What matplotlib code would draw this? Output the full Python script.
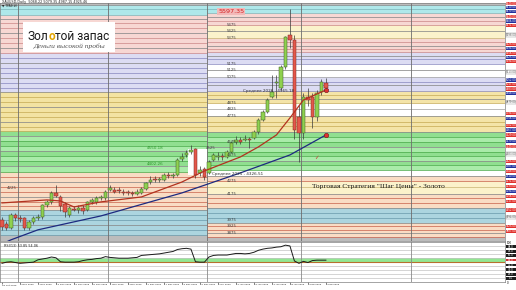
import matplotlib
matplotlib.use("Agg")
import matplotlib.pyplot as plt
from matplotlib.patches import Rectangle
from matplotlib.text import Annotation
import matplotlib.transforms as mtransforms

# XAUUSD Daily, 28 Oct 2025 - 9 Feb 2026 (bar index 0..72)
opens = [3975, 3945, 3914, 4014, 3990, 3990, 3914, 3960, 3990, 3995,
         4091, 4114, 4183, 4152, 4100, 4014, 4060, 4052, 4070, 4052,
         4114, 4114, 4144, 4144, 4206, 4206, 4200, 4190, 4183, 4180,
         4175, 4183, 4214, 4270, 4283, 4280, 4283, 4321, 4313, 4321,
         4445, 4475, 4500, 4521, 4337, 4368, 4337, 4437, 4460, 4465,
         4460, 4498, 4575, 4590, 4590, 4595, 4606, 4652, 4744, 4806,
         4921, 5030, 4990, 5152, 5398, 5360, 4767, 4644, 4921, 4921,
         4767, 4960, 5030]
highs = [3995, 3965, 4030, 4025, 4010, 4000, 3975, 4005, 4020, 4100,
         4130, 4200, 4245, 4170, 4110, 4085, 4085, 4090, 4090, 4120,
         4140, 4160, 4170, 4205, 4240, 4230, 4225, 4215, 4205, 4200,
         4210, 4230, 4270, 4310, 4310, 4305, 4335, 4340, 4335, 4450,
         4490, 4510, 4550, 4530, 4390, 4380, 4435, 4490, 4495, 4490,
         4510, 4580, 4620, 4610, 4625, 4615, 4665, 4760, 4820, 4910,
         5090, 5090, 5165, 5390, 5597, 5400, 4860, 4950, 4990, 4950,
         4975, 5060, 5070]
lows = [3900, 3895, 3905, 3970, 3960, 3900, 3895, 3945, 3975, 3985,
        4075, 4100, 4150, 4040, 4000, 4000, 4040, 4030, 4020, 4040,
        4100, 4100, 4130, 4130, 4195, 4180, 4180, 4170, 4165, 4160,
        4165, 4175, 4205, 4255, 4265, 4270, 4275, 4300, 4300, 4315,
        4430, 4460, 4485, 4300, 4310, 4280, 4325, 4425, 4440, 4440,
        4450, 4490, 4560, 4560, 4580, 4530, 4595, 4640, 4735, 4795,
        4910, 4915, 4975, 5140, 5300, 4600, 4420, 4600, 4850, 4680,
        4740, 4940, 4975]
closes = [3922, 3914, 4014, 3990, 3980, 3914, 3960, 3990, 3998, 4091,
          4114, 4183, 4160, 4083, 4037, 4068, 4052, 4068, 4045, 4114,
          4125, 4144, 4152, 4191, 4222, 4191, 4195, 4183, 4180, 4172,
          4191, 4214, 4260, 4283, 4280, 4290, 4321, 4313, 4321, 4437,
          4460, 4491, 4514, 4321, 4360, 4306, 4421, 4475, 4468, 4460,
          4498, 4568, 4590, 4575, 4598, 4590, 4652, 4744, 4806, 4898,
          4960, 5040, 5152, 5383, 5360, 4667, 4644, 4921, 4898, 4767,
          4952, 5037, 4990]

# moving averages
ma_red_x = [0, 10, 13, 16, 22, 31, 40, 45, 53, 57, 61, 64, 67, 72]
ma_red_y = [4106, 4129, 4121, 4075, 4114, 4152, 4267, 4352, 4460, 4537, 4629, 4760, 4898, 4975]
ma_blue_x = [0, 2, 8, 22, 40, 53, 64, 72]
ma_blue_y = [3790, 3822, 3899, 4006, 4183, 4337, 4475, 4629]

# lower indicator, one value per bar
rsi = [46, 49, 50, 48, 46, 47, 48, 49, 55, 57, 59, 62, 60, 50, 49, 49, 49, 50, 53, 55,
       56, 58, 59, 63, 61, 60, 59, 59, 59, 60, 61, 66, 67, 68, 69, 70, 72, 74, 76, 81,
       83, 84, 82, 50, 49, 49, 62, 66, 67, 67, 67, 69, 71, 71, 70, 71, 74, 79, 82, 84,
       85, 87, 88, 92, 90, 52, 46, 51, 48, 53, 54, 54, 54]

date_ticks = [0, 4, 8, 12, 16, 20, 24, 28, 32, 36, 40, 44, 48, 52, 56, 60, 64, 68, 72]
date_labels = ["28 Oct 2025", "3 Nov 2025", "7 Nov 2025", "13 Nov 2025", "19 Nov 2025",
               "25 Nov 2025", "1 Dec 2025", "5 Dec 2025", "11 Dec 2025", "17 Dec 2025",
               "23 Dec 2025", "30 Dec 2025", "6 Jan 2026", "12 Jan 2026", "16 Jan 2026",
               "22 Jan 2026", "28 Jan 2026", "3 Feb 2026", "9 Feb 2026"]
month_breaks = [3.5, 23.5, 45.5, 66.5, 91]

# price zones: 2025 levels (left of 2026 start) and 2026 levels
bands_2025 = [(5629, 5644, "gray"), (5552, 5629, "cyan"), (5260, 5552, "pink"),
              (4960, 5260, "lavender"), (4660, 4960, "yellow"), (4344, 4660, "green"),
              (4052, 4344, "peach"), (3860, 4052, "blue"), (3813, 3860, "gray")]
bands_2026 = [(5629, 5644, "gray"), (5567, 5629, "cyan"), (5475, 5567, "pink"),
              (5375, 5475, "cream"), (5267, 5375, "pink"), (5175, 5267, "lavender"),
              (5075, 5175, "white"), (4967, 5075, "lavender"), (4875, 4967, "tan"),
              (4775, 4875, "white"), (4652, 4775, "tan"), (4360, 4652, "green"),
              (4313, 4360, "white"), (4275, 4313, "peach"), (4175, 4275, "cream"),
              (4067, 4175, "peach"), (3952, 4067, "blue"), (3844, 3952, "peach"),
              (3813, 3844, "gray")]
lines_2025 = [5630, 5600, 5552, 5520, 5490, 5450, 5410, 5375, 5340, 5300, 5260, 5220,
              5185, 5145, 5105, 5065, 5030, 4990, 4960, 4920, 4885, 4845, 4805, 4765,
              4730, 4690, 4660, 4620, 4585, 4545, 4505, 4465, 4430, 4390, 4344, 4305,
              4265, 4230, 4190, 4150, 4115, 4085, 4052, 4015, 3975, 3935, 3900, 3860]
lines_2026 = [5629, 5600, 5567, 5535, 5505, 5475, 5425, 5375, 5345, 5315, 5290, 5267,
              5235, 5210, 5175, 5125, 5075, 5040, 5010, 4967, 4935, 4905, 4875, 4825,
              4775, 4730, 4700, 4652, 4615, 4575, 4540, 4500, 4465, 4425, 4395, 4360,
              4313, 4275, 4225, 4175, 4140, 4105, 4067, 4030, 3990, 3952, 3925, 3900,
              3875, 3844]
step_marks = [5475, 5425, 5375, 5175, 5125, 5075, 4875, 4825, 4775, 4575, 4475,
              4275, 4175, 3975, 3925, 3875]

# right-hand price tags
tag_prices = [5640, 5610, 5579, 5540, 5506, 5471, 5398, 5325, 5294, 5256, 5225, 5194,
              5113, 5052, 5017, 4983, 4948, 4879, 4794, 4756, 4702, 4667, 4629, 4579,
              4540, 4483, 4425, 4387, 4348, 4310, 4271, 4233, 4194, 4156, 4117, 4052,
              3994, 3925, 3887]
tag_kinds = ["r", "b", "b", "r", "b", "r", "w", "r", "b", "r", "b", "r",
             "w", "b", "r", "r", "b", "w", "r", "b", "r", "b", "r", "b",
             "r", "w", "r", "b", "r", "b", "r", "r", "b", "r", "r", "r",
             "w", "r", "r"]
rsi_tags = [88, 76, 66, 54, 42, 30, 18, 8]

fill = {"gray": "#bcbcbc", "cyan": "#aee8ea", "pink": "#f7d7d3", "cream": "#fbf2cb",
        "lavender": "#dcdcf3", "white": "#ffffff", "yellow": "#f3e3a2", "tan": "#f4e4a8",
        "green": "#90df90", "peach": "#f9dcc4", "blue": "#acd5df"}
edge = {"gray": "#8c8c8c", "cyan": "#7fb9bd", "pink": "#cf8d8d", "cream": "#cdb97a",
        "lavender": "#8f8fc4", "white": "#a8a8a8", "yellow": "#c9ae5a", "tan": "#c9ae5a",
        "green": "#4fae4f", "peach": "#cc6b55", "blue": "#6f9fb0"}

W, H = 516, 290
X0, X1 = -0.44, 111.8
SPLIT = 45.5

fig = plt.figure(figsize=(W / 100, H / 100), dpi=100)
ax = fig.add_axes([0, 1 - 241 / H, 505 / W, 238 / H])
ax2 = fig.add_axes([0, 1 - 281.5 / H, 505 / W, 39.5 / H])
ax.set_xlim(X0, X1)
ax.set_ylim(3813, 5644)


def zone(p, bands):
    for lo, hi, c in bands:
        if lo <= p <= hi:
            return c
    return "gray"


def draw_zones(bands, levels, xa, xb):
    for lo, hi, c in bands:
        ax.add_patch(Rectangle((xa, lo), xb - xa, hi - lo, color=fill[c], lw=0, zorder=0))
    # stripes inside green zone
    gl = [p for p in levels if zone(p, bands) == "green"]
    for k in range(len(gl) - 1):
        if k % 2 == 0:
            ax.add_patch(Rectangle((xa, gl[k + 1]), xb - xa, gl[k] - gl[k + 1],
                                   color="#a9eba9", lw=0, zorder=0.5))
    for k, p in enumerate(levels):
        c = edge[zone(p, bands)] if k % 3 else "#8a8a8a"
        ax.hlines(p, xa, xb, colors=c, lw=0.55, zorder=1)


draw_zones(bands_2025, lines_2025, X0, SPLIT)
draw_zones(bands_2026, lines_2026, SPLIT, X1)
ax.add_patch(Rectangle((41.3, 4321), 4.2, 200, color="white", lw=0, zorder=1.2))

for m in month_breaks:
    ax.axvline(m, color="#6e6e6e", lw=0.6, zorder=1.5)
    ax2.axvline(m, color="#8a8a8a", lw=0.6, zorder=1.5)

# candles
for i in range(len(opens)):
    o, h, l, c = opens[i], highs[i], lows[i], closes[i]
    ax.vlines(i, l, h, color="#3a3a3a", lw=0.5, zorder=3)
    up = c >= o
    ax.add_patch(Rectangle((i - 0.36, min(o, c)), 0.72, max(abs(c - o), 7),
                           facecolor="#8fd14f" if up else "#e4574b",
                           edgecolor="#3d5a2a" if up else "#7a2a22", lw=0.35, zorder=4))

ax.plot(ma_red_x, ma_red_y, color="#b2321f", lw=0.9, zorder=5)
ax.plot(ma_blue_x, ma_blue_y, color="#1d2a80", lw=0.9, zorder=5)
ax.plot([ma_red_x[-1], ma_blue_x[-1]], [ma_red_y[-1], ma_blue_y[-1]], "o",
        ms=3.2, mfc="#e03030", mec="#6a1a1a", mew=0.4, zorder=6)

# text on the price panel
for p in step_marks:
    ax.text(51, p, str(p), fontsize=2.8, color="#404040", ha="center", va="center", zorder=7)
ax.text(46.4, 4525, "4525", fontsize=2.8, color="#404040", ha="center", va="center", zorder=7)
ax.text(2.2, 4221, "4225", fontsize=2.8, color="#404040", ha="center", va="center", zorder=7)
ax.text(34, 4529, "4550.18", fontsize=3.0, color="#2e9a2e", ha="center", va="center", zorder=7)
ax.text(34, 4406, "4402.26", fontsize=3.0, color="#2e9a2e", ha="center", va="center", zorder=7)
ax.text(53.6, 4965, "Среднее 2026 - 4965.18", fontsize=3.0, color="#303030", va="center", zorder=7)
ax.text(46.7, 4329, "Среднее 2025 - 4326.51", fontsize=3.0, color="#303030", va="center", zorder=7)
ax.text(51, 5582, "5597.35", fontsize=4.6, color="#d42020", ha="center", va="center", zorder=7,
        bbox=dict(boxstyle="square,pad=0.15", fc="#f2b9b9", ec="none"))
ax.text(70, 4452, "✓", fontsize=4, color="#d03030", ha="center", va="center", zorder=7)
ax.text(69, 4235, "Торговая Стратегия \"Шаг Цены\" - Золото", fontsize=5.4,
        family="Liberation Serif", color="#1a1a1a", ha="left", va="center", zorder=7)

# right price tags
tr = mtransforms.blended_transform_factory(ax.transAxes, ax.transData)
tag_fc = {"r": "#e0302c", "b": "#22309e", "w": "#ffffff"}
for p, k in zip(tag_prices, tag_kinds):
    ax.add_patch(Rectangle((1.001, p - 13), 0.0215, 26, transform=tr, clip_on=False,
                           facecolor=tag_fc[k], edgecolor="#909090" if k == "w" else "none",
                           lw=0.3, zorder=8))
    ax.text(1.012, p, f"{p:.2f}", transform=tr, fontsize=1.9, ha="center", va="center",
            color="#555555" if k == "w" else "white", clip_on=False, zorder=9)

for s in ax.spines.values():
    s.set_color("#808080")
    s.set_linewidth(0.5)
ax.set_xticks([])
ax.set_yticks([])

# lower panel
ax2.set_xlim(X0, X1)
ax2.set_ylim(0, 100)
ax2.axhspan(50, 60, color="#92e792", lw=0, zorder=0)
for g in [10, 20, 30, 40, 60, 70, 80, 90]:
    ax2.axhline(g, color="#c4c4c4", lw=0.5, zorder=0.5)
ax2.axhline(50, color="#b7702e", lw=0.8, zorder=1)
ax2.plot(range(len(rsi)), rsi, color="#1a1a1a", lw=0.7, zorder=3)
ax2.text(0.5, 96, "RSI(13) 53.85 54.06", fontsize=2.4, color="#202020", va="top")
tr2 = mtransforms.blended_transform_factory(ax2.transAxes, ax2.transData)
for v in rsi_tags:
    ax2.add_patch(Rectangle((1.001, v - 3.2), 0.0215, 6.4, transform=tr2, clip_on=False,
                            facecolor="#d03030" if v == 54 else "#1c1c1c", lw=0, zorder=8))
    ax2.text(1.012, v, f"{v:.1f}", transform=tr2, fontsize=1.9, ha="center", va="center",
             color="white", clip_on=False, zorder=9)
ax2.text(1.004, 97, "100", transform=tr2, fontsize=2.0, va="center", clip_on=False)
ax2.text(1.004, -5, "0", transform=tr2, fontsize=2.0, va="center", clip_on=False)
ax2.set_yticks([])
ax2.set_xticks(date_ticks)
ax2.set_xticklabels(date_labels, fontsize=1.7, ha="left")
ax2.tick_params(axis="x", length=1.2, width=0.4, pad=0.8, colors="#202020")
for s in ax2.spines.values():
    s.set_color("#808080")
    s.set_linewidth(0.5)

# header
fig.text(0.004, 1 - 1.8 / H, "XAUUSD,Daily  5068.22 5079.35 4987.15 4925.46", fontsize=2.4,
         va="center", color="#202020")
fig.text(0.004, 1 - 5.2 / H, "▼ TPAll(#)", fontsize=2.2, va="center", color="#202020")

# logo
fig.add_artist(Rectangle((23 / W, 1 - 52 / H), 92 / W, 30 / H, transform=fig.transFigure,
                         facecolor="white", edgecolor="none", zorder=10))
t1 = fig.text(28 / W, 1 - 40.5 / H, "Зол", fontsize=8.6, family="Roboto", color="#1a1a1a",
              zorder=11)
t2 = Annotation("о", xy=(1, 0), xycoords=t1, va="bottom", fontsize=8.6, family="Roboto",
                color="#e3a400", weight="bold", annotation_clip=False)
t2.set_zorder(11)
fig.add_artist(t2)
t3 = Annotation("той запас", xy=(1, 0), xycoords=t2, va="bottom", fontsize=8.6,
                family="Roboto", color="#1a1a1a", annotation_clip=False)
t3.set_zorder(11)
fig.add_artist(t3)
fig.text(69 / W, 1 - 46 / H, "Деньги высокой пробы", fontsize=5.4, family="Liberation Serif",
         style="italic", color="#555555", ha="center", va="center", zorder=11)

fig.savefig("out.png", dpi=100, facecolor="white")
